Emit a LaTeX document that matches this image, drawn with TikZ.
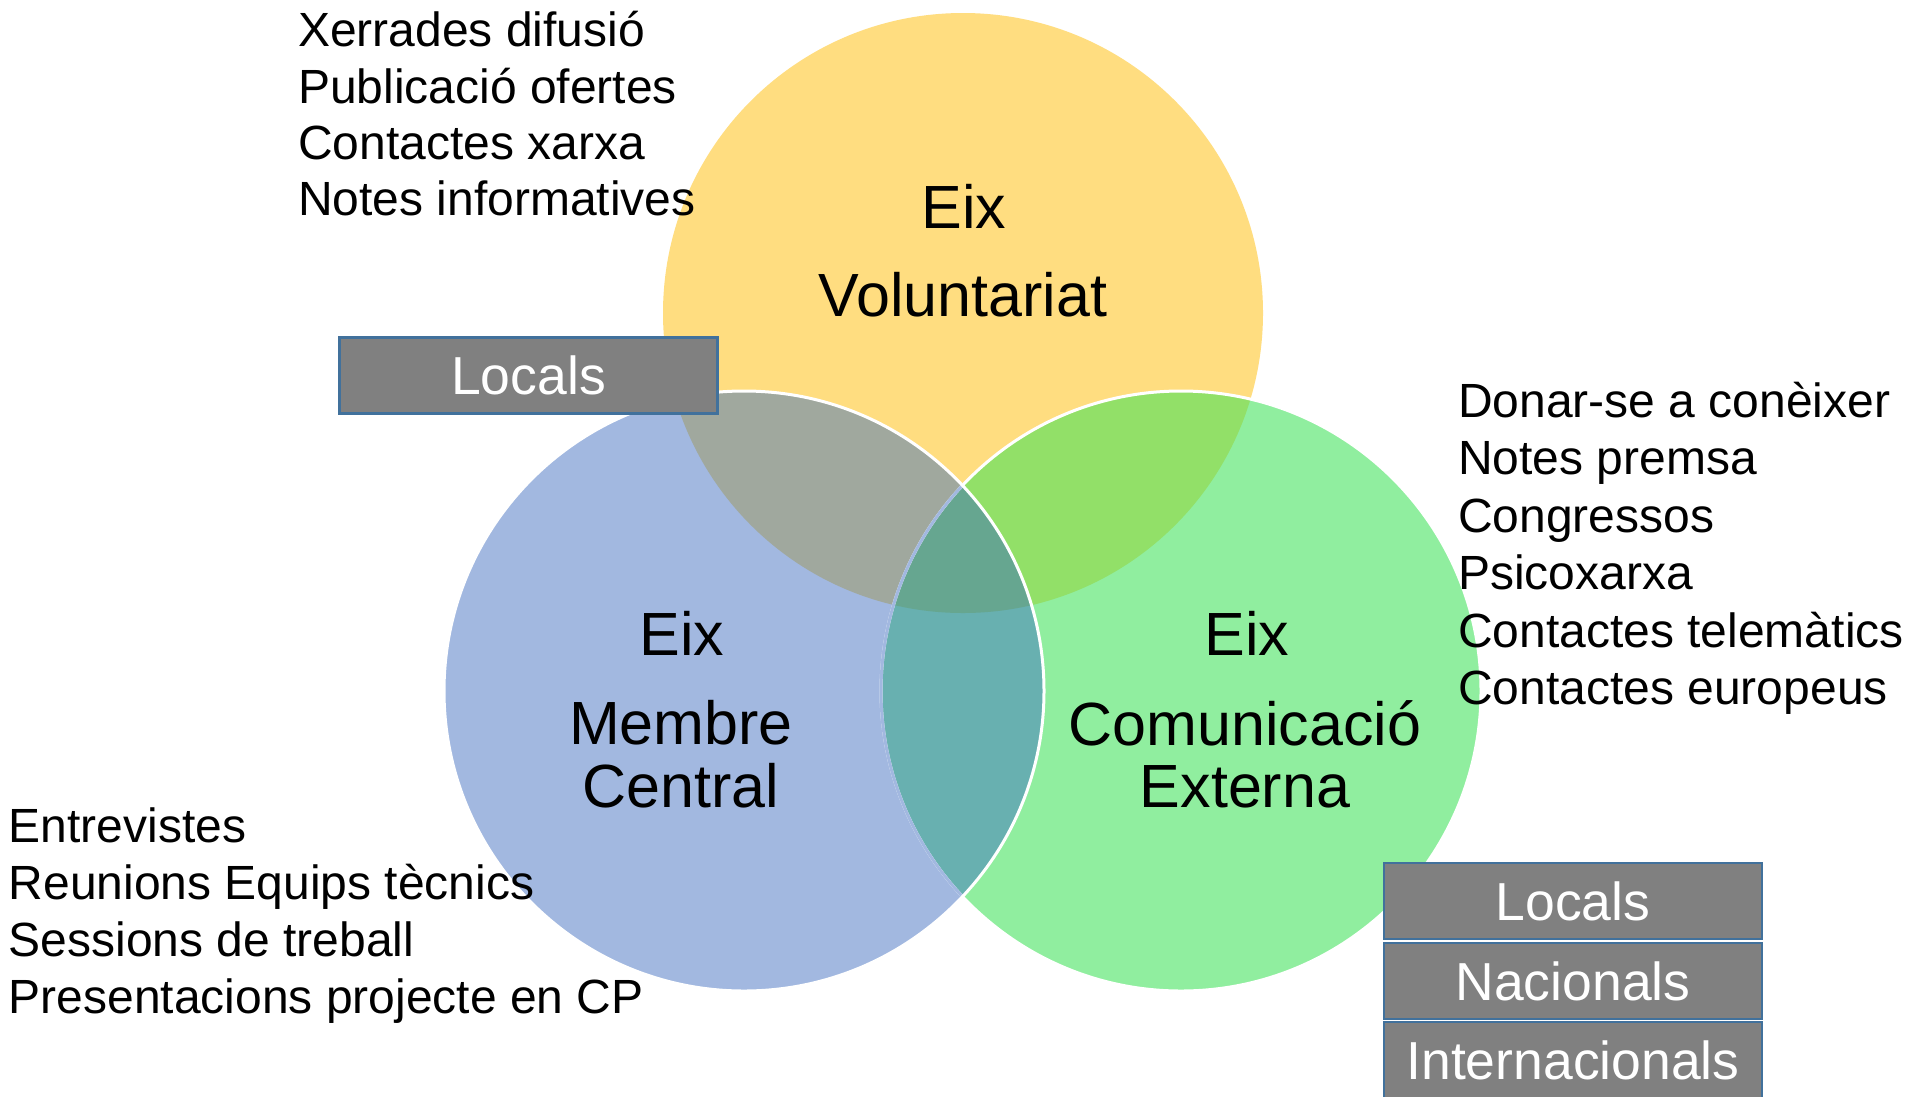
\documentclass[tikz,border=0pt]{standalone}
\usepackage{fontspec}
\setmainfont{Liberation Sans}
\definecolor{cY}{HTML}{FFDD80}
\definecolor{cB}{HTML}{A2B8E0}
\definecolor{cG}{HTML}{90EE9F}
\definecolor{cYB}{HTML}{A0A89E}
\definecolor{cYG}{HTML}{92E068}
\definecolor{cBG}{HTML}{68B0B0}
\definecolor{cYBG}{HTML}{66A690}
\definecolor{boxedge}{HTML}{41719C}
\definecolor{boxfill}{HTML}{808080}
\begin{document}
\begin{tikzpicture}[x=1pt,y=-1pt,
  listtext/.style={anchor=base west,inner sep=0pt,font=\fontsize{48}{57}\selectfont},
  circtext/.style={anchor=base,inner sep=0pt,font=\fontsize{61}{72}\selectfont},
  tagbox/.style={draw=boxedge,line width=2.5pt,fill=boxfill,text=white,
    minimum width=378pt,minimum height=76pt,inner sep=0pt,
    font=\fontsize{53.5}{62}\selectfont},
  rim/.style={white,line width=3pt}]
\clip (0,0) rectangle (1913,1096);
\fill[white] (0,0) rectangle (1913,1096);
\coordinate (cy) at (963,313);
\coordinate (cb) at (744,691);
\coordinate (cg) at (1181,691);
\def\R{300}
% circle fills
\fill[cY] (cy) circle[radius=\R];
\fill[cG] (cg) circle[radius=\R];
\fill[cB] (cb) circle[radius=\R];
\begin{scope}
  \clip (cy) circle[radius=\R];
  \fill[cYB] (cb) circle[radius=\R];
  \fill[cYG] (cg) circle[radius=\R];
\end{scope}
\begin{scope}
  \clip (cb) circle[radius=\R];
  \fill[cBG] (cg) circle[radius=\R];
  \clip (cy) circle[radius=\R];
  \fill[cYBG] (cg) circle[radius=\R];
\end{scope}
% outlines
\draw[rim] (cg) circle[radius=\R];
\begin{scope}
  \clip (cb) circle[radius=\R];
  \draw[cB,line width=3pt] (cg) circle[radius=\R];
\end{scope}
\draw[rim] (cb) circle[radius=\R];
% circle labels
\node[circtext] (ey) at (964,228) {Eix};
\node[circtext] (vy) at (963,316) {Voluntariat};
\node[circtext] (eb) at (682,655) {Eix};
\node[circtext] (mb) at (681,744) {Membre};
\node[circtext] (cbt) at (681,807) {Central};
\node[circtext] (eg) at (1247,655) {Eix};
\node[circtext] (kg) at (1245,745) {Comunicació};
\node[circtext] (xg) at (1245,807) {Externa};
% top-left list
\node[listtext] (t1) at (298,46) {Xerrades difusió};
\node[listtext] (t2) at (298,103) {Publicació ofertes};
\node[listtext] (t3) at (298,159) {Contactes xarxa};
\node[listtext] (t4) at (298,215.5) {Notes informatives};
% right list
\node[listtext] (r1) at (1458,417) {Donar-se a conèixer};
\node[listtext] (r2) at (1458,474.5) {Notes premsa};
\node[listtext] (r3) at (1458,532) {Congressos};
\node[listtext] (r4) at (1458,589.5) {Psicoxarxa};
\node[listtext] (r5) at (1458,647) {Contactes telemàtics};
\node[listtext] (r6) at (1458,704) {Contactes europeus};
% bottom-left list
\node[listtext] (b1) at (8.5,842) {Entrevistes};
\node[listtext] (b2) at (8.5,899) {Reunions Equips tècnics};
\node[listtext] (b3) at (8.5,956) {Sessions de treball};
\node[listtext] (b4) at (8.5,1013) {Presentacions projecte en CP};
% boxes
\node[tagbox] (loc1) at (528.5,375.5) {Locals};
\node[tagbox] (loc2) at (1573,901) {Locals};
\node[tagbox] (nac) at (1573,981) {Nacionals};
\node[tagbox] (int) at (1573,1060) {Internacionals};
\end{tikzpicture}
\end{document}
